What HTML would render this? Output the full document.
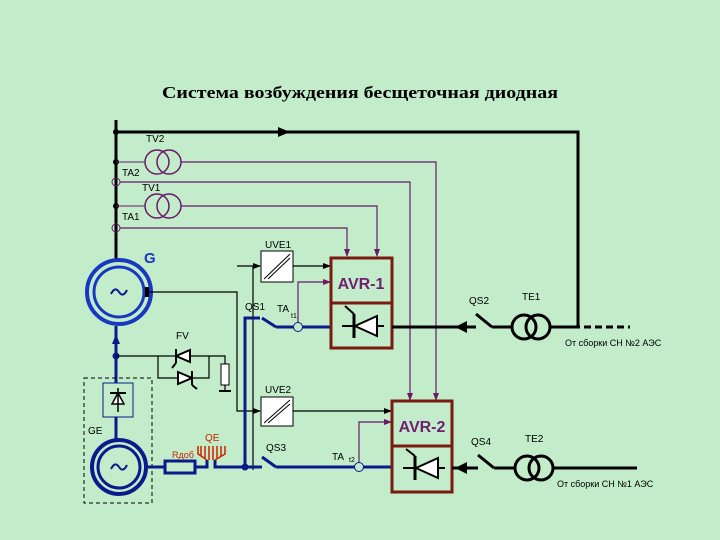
<!DOCTYPE html>
<html><head><meta charset="utf-8"><style>
html,body{margin:0;padding:0;background:#c2ecca;}
svg{display:block;}
text{font-family:"Liberation Sans","DejaVu Sans",sans-serif;}
text.title{font-family:"Liberation Serif","DejaVu Serif",serif;}
</style></head><body>
<svg width="720" height="540" viewBox="0 0 720 540" xmlns="http://www.w3.org/2000/svg">
<defs>
<marker id="ak" markerWidth="8" markerHeight="8" refX="7" refY="4" orient="auto" markerUnits="userSpaceOnUse"><path d="M0,1 L8,4 L0,7z" fill="#000"/></marker>
<marker id="ap" markerWidth="8" markerHeight="8" refX="7" refY="4" orient="auto" markerUnits="userSpaceOnUse"><path d="M0,1 L8,4 L0,7z" fill="#6a1a6a"/></marker>
</defs>
<rect width="720" height="540" fill="#c2ecca"/>
<text class="title" x="360" y="98" text-anchor="middle" font-weight="bold" font-size="17" textLength="396" lengthAdjust="spacingAndGlyphs">Система возбуждения бесщеточная диодная</text>

<!-- main bus -->
<line x1="116" y1="120" x2="116" y2="259" stroke="#000" stroke-width="3"/>
<polyline points="116,132 578,132 578,327" fill="none" stroke="#000" stroke-width="3"/>
<path d="M278,127 L290,132 L278,137z" fill="#000"/>
<circle cx="116" cy="132" r="3" fill="#000"/>
<circle cx="116" cy="162" r="3" fill="#000"/>
<circle cx="116" cy="206" r="3" fill="#000"/>
<line x1="116" y1="162" x2="145" y2="162" stroke="#6a1a6a"/>
<line x1="116" y1="206" x2="145" y2="206" stroke="#6a1a6a"/>
<circle cx="116" cy="182" r="4" fill="none" stroke="#6a1a6a"/>
<circle cx="116" cy="228" r="4" fill="none" stroke="#6a1a6a"/>
<g fill="none" stroke="#6a1a6a" stroke-width="1.5">
<circle cx="157" cy="162" r="12"/><circle cx="169" cy="162" r="12"/>
<circle cx="157" cy="206" r="12"/><circle cx="169" cy="206" r="12"/>
</g>
<g fill="none" stroke="#6a1a6a" stroke-width="1.2">
<polyline points="181,162 436,162 436,400" marker-end="url(#ap)"/>
<polyline points="120,182 410,182 410,400" marker-end="url(#ap)"/>
<polyline points="181,206 377,206 377,256" marker-end="url(#ap)"/>
<polyline points="120,228 347,228 347,256" marker-end="url(#ap)"/>
<polyline points="298,323 298,282 330,282" marker-end="url(#ap)"/>
<polyline points="359,463 359,422 391,422" marker-end="url(#ap)"/>
</g>
<g font-size="10" fill="#000">
<text x="146" y="142">TV2</text><text x="122" y="176">TA2</text>
<text x="142" y="191">TV1</text><text x="122" y="220">TA1</text>
<text x="265" y="248">UVE1</text><text x="265" y="393">UVE2</text>
<text x="245" y="310">QS1</text><text x="277" y="312">TA</text><text x="291" y="318" font-size="7">t1</text>
<text x="266" y="451">QS3</text><text x="332" y="460">TA</text><text x="349" y="462" font-size="7">t2</text>
<text x="469" y="304">QS2</text><text x="522" y="300">TE1</text>
<text x="471" y="445">QS4</text><text x="525" y="442">TE2</text>
<text x="565" y="346" font-size="9">От сборки СН №2 АЭС</text>
<text x="557" y="487" font-size="9">От сборки СН №1 АЭС</text>
<text x="176" y="339">FV</text><text x="88" y="434">GE</text>
</g>
<text x="144" y="263" font-size="15" font-weight="bold" fill="#1838c0">G</text>

<!-- generator G -->
<circle cx="119" cy="292" r="32" fill="none" stroke="#1838c0" stroke-width="4"/>
<circle cx="119" cy="292" r="25" fill="none" stroke="#1838c0" stroke-width="3"/>
<path d="M111,294 q4,-8 8,-2 q4,6 8,-2" fill="none" stroke="#0a1a8a" stroke-width="2"/>
<rect x="145" y="287" width="4" height="10" fill="#000"/>
<polyline points="149,292 237,292 237,411 260,411" fill="none" stroke="#000" stroke-width="1.2" marker-end="url(#ak)"/>
<polyline points="237,266 260,266" fill="none" stroke="#000" stroke-width="1.2" marker-end="url(#ak)"/>
<line x1="253" y1="266" x2="253" y2="470" stroke="#000" stroke-width="1.2"/>
<rect x="261" y="251" width="32" height="31" fill="#fff" stroke="#000"/>
<line x1="264" y1="279" x2="290" y2="254" stroke="#000"/><line x1="268" y1="279" x2="290" y2="258" stroke="#000"/>
<line x1="293" y1="266" x2="330" y2="266" stroke="#000" stroke-width="1.2" marker-end="url(#ak)"/>
<rect x="261" y="397" width="32" height="29" fill="#fff" stroke="#000"/>
<line x1="264" y1="423" x2="290" y2="400" stroke="#000"/><line x1="268" y1="423" x2="290" y2="404" stroke="#000"/>
<line x1="293" y1="411" x2="391" y2="411" stroke="#000" stroke-width="1.2" marker-end="url(#ak)"/>

<!-- bus down from G -->
<line x1="116" y1="326" x2="116" y2="383" stroke="#0a1a8a" stroke-width="3"/>
<path d="M112,344 L116,334 L120,344z" fill="#0a1a8a"/>
<circle cx="116" cy="356" r="3.5" fill="#0a1a8a"/>
<g stroke="#000" stroke-width="1.2" fill="none">
<polyline points="116,356 225,356 225,364"/>
<polyline points="158,356 158,378 209,378 209,356"/>
<line x1="225" y1="385" x2="225" y2="391"/>
<line x1="219" y1="391" x2="231" y2="391" stroke-width="2"/>
</g>
<rect x="221" y="364" width="8" height="21" fill="#fff" stroke="#000"/>
<g stroke="#000" stroke-width="2" fill="#fff">
<path d="M190,350 L190,362 L176,356z"/><line x1="176" y1="349" x2="176" y2="363"/><polyline points="176,363 172,368" fill="none"/>
<path d="M178,372 L178,384 L192,378z"/><line x1="192" y1="371" x2="192" y2="385"/><polyline points="192,385 197,389" fill="none"/>
</g>
<!-- GE -->
<rect x="84" y="378" width="68" height="125" fill="none" stroke="#000" stroke-dasharray="4,3"/>
<rect x="103" y="383" width="30" height="34" fill="#c2ecca" stroke="#0a1a8a"/>
<path d="M112,404 L124,404 L118,393z" fill="#fff" stroke="#000" stroke-width="1.5"/>
<line x1="110" y1="393" x2="126" y2="393" stroke="#000" stroke-width="2"/>
<line x1="118" y1="388" x2="118" y2="412" stroke="#000" stroke-width="1.5"/>
<line x1="116" y1="417" x2="116" y2="440" stroke="#0a1a8a" stroke-width="3"/>
<circle cx="119" cy="467" r="27" fill="none" stroke="#0a1a8a" stroke-width="4"/>
<circle cx="119" cy="467" r="21" fill="none" stroke="#0a1a8a" stroke-width="3"/>
<path d="M111,469 q4,-8 8,-2 q4,6 8,-2" fill="none" stroke="#0a1a8a" stroke-width="2"/>
<g stroke="#0a1a8a" stroke-width="3" fill="none">
<line x1="146" y1="467" x2="165" y2="467"/>
<rect x="165" y="461" width="30" height="12"/>
<polyline points="195,467 207,467 207,460"/>
<polyline points="215,460 215,467 262,467"/>
<polyline points="245,467 245,318 260,318"/>
<polyline points="276,327 331,327"/>
<polyline points="276,467 392,467"/>
<line x1="262" y1="318" x2="276" y2="327"/>
<line x1="262" y1="457" x2="276" y2="467"/>
</g>
<circle cx="245" cy="467" r="3.5" fill="#0a1a8a"/>
<circle cx="298" cy="327" r="4.5" fill="#c2ecca" stroke="#0a1a8a"/>
<circle cx="359" cy="467" r="4.5" fill="#c2ecca" stroke="#0a1a8a"/>
<g stroke="#cc2200" stroke-width="1.5" fill="none">
<path d="M198,446 L198,454 L207,460 M215,460 L225,454 L225,446"/>
<line x1="201" y1="446" x2="201" y2="456"/><line x1="205" y1="446" x2="205" y2="458"/><line x1="209" y1="446" x2="209" y2="460"/><line x1="213" y1="446" x2="213" y2="460"/><line x1="217" y1="446" x2="217" y2="458"/><line x1="221" y1="446" x2="221" y2="456"/>
</g>
<text x="205" y="441" font-size="10" fill="#cc2200">QE</text>
<text x="172" y="458" font-size="9" fill="#cc2200">Rдоб</text>

<!-- AVR boxes -->
<g stroke="#7a1a10" stroke-width="3" fill="none">
<rect x="331" y="258" width="61" height="90"/><line x1="331" y1="303" x2="392" y2="303"/>
<rect x="392" y="401" width="60" height="91"/><line x1="392" y1="446" x2="452" y2="446"/>
</g>
<text x="361" y="289" text-anchor="middle" font-size="16" font-weight="bold" fill="#702070">AVR-1</text>
<text x="422" y="432" text-anchor="middle" font-size="16" font-weight="bold" fill="#702070">AVR-2</text>
<g stroke="#000" stroke-width="2" fill="#fff">
<line x1="342" y1="326" x2="384" y2="326"/><path d="M377,316 L377,336 L355,326z"/><line x1="354" y1="314" x2="354" y2="338" stroke-width="3"/><polyline points="354,314 345,306" fill="none"/>
<line x1="403" y1="468" x2="445" y2="468"/><path d="M438,458 L438,478 L416,468z"/><line x1="415" y1="456" x2="415" y2="480" stroke-width="3"/><polyline points="415,456 406,449" fill="none"/>
</g>
<!-- right side sources -->
<g stroke="#000" stroke-width="3" fill="none">
<line x1="392" y1="327" x2="476" y2="327"/><line x1="476" y1="314" x2="492" y2="327"/><line x1="492" y1="327" x2="512" y2="327"/>
<circle cx="524" cy="327" r="12"/><circle cx="538" cy="327" r="12"/>
<line x1="550" y1="327" x2="580" y2="327"/>
<line x1="584" y1="327" x2="630" y2="327" stroke-dasharray="7,4"/>
<line x1="452" y1="468" x2="478" y2="468"/><line x1="478" y1="455" x2="494" y2="468"/><line x1="494" y1="468" x2="515" y2="468"/>
<circle cx="527" cy="468" r="12"/><circle cx="541" cy="468" r="12"/>
<line x1="553" y1="468" x2="637" y2="468"/>
</g>
<path d="M455,327 L467,321 L467,333z" fill="#000"/>
<path d="M455,468 L467,462 L467,474z" fill="#000"/>
</svg>
</body></html>
